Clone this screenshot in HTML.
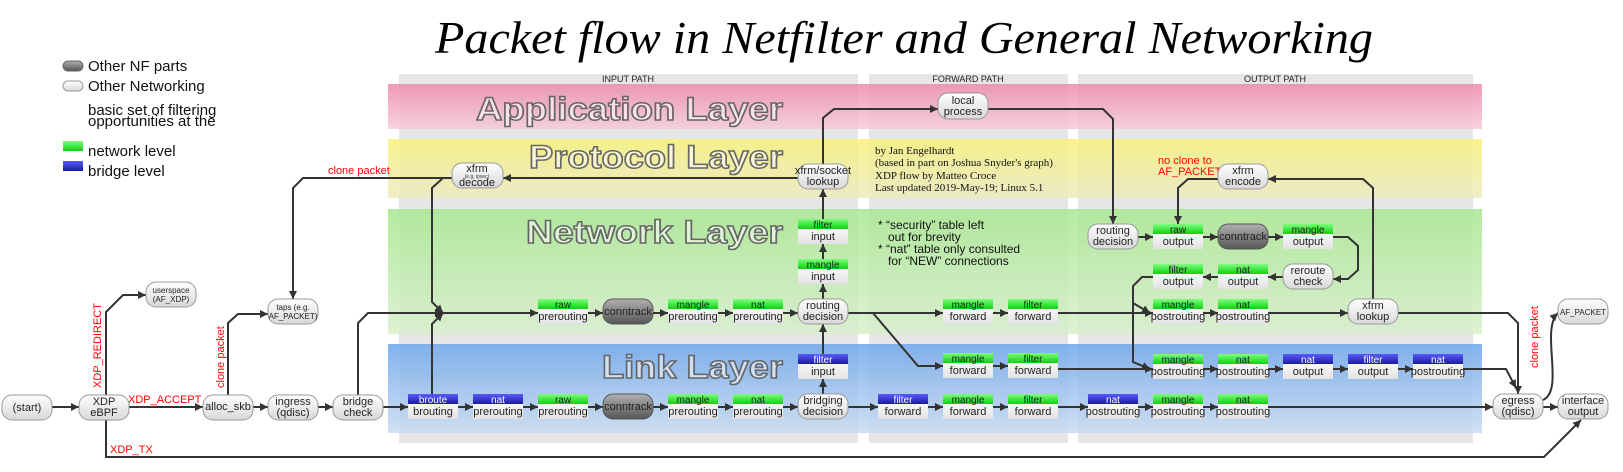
<!DOCTYPE html>
<html><head><meta charset="utf-8"><style>
html,body{margin:0;padding:0;background:#fff;}
svg{display:block;}
text{font-family:"Liberation Sans",sans-serif;}
.n{font-size:11px;fill:#222;text-anchor:middle;}
.s{font-size:8px;fill:#222;text-anchor:middle;}
.hw{font-size:10px;fill:#fff;text-anchor:middle;}
.hg{font-size:10px;fill:#222;text-anchor:middle;}
.r{fill:#f00;font-size:11px;}
.lt{font-size:32px;font-weight:bold;fill:rgba(255,255,255,0.55);stroke:#666;stroke-width:1.5;text-anchor:end;}
.ln{fill:none;stroke:#333;stroke-width:2;marker-end:url(#a);}
.lx{fill:none;stroke:#333;stroke-width:2;}
.cr{font-family:"Liberation Serif",serif;font-size:11px;fill:#111;}
.pl{font-size:9px;fill:#222;text-anchor:middle;}
</style></head><body>
<svg width="1623" height="472" viewBox="0 0 1623 472" xmlns="http://www.w3.org/2000/svg">
<defs>
<marker id="a" markerWidth="8" markerHeight="8" refX="8" refY="4" orient="auto" markerUnits="userSpaceOnUse"><path d="M0,0 L8,4 L0,8 z" fill="#333"/></marker>
<linearGradient id="gl" x1="0" y1="0" x2="0" y2="1"><stop offset="0" stop-color="#fff"/><stop offset="1" stop-color="#d8d8d8"/></linearGradient>
<linearGradient id="gd" x1="0" y1="0" x2="0" y2="1"><stop offset="0" stop-color="#b0b0b0"/><stop offset="1" stop-color="#555"/></linearGradient>
<linearGradient id="gg" x1="0" y1="0" x2="0" y2="1"><stop offset="0" stop-color="#7dff7d"/><stop offset="1" stop-color="#10d010"/></linearGradient>
<linearGradient id="gb" x1="0" y1="0" x2="0" y2="1"><stop offset="0" stop-color="#5a5aff"/><stop offset="1" stop-color="#1a1aa0"/></linearGradient>
<linearGradient id="gy" x1="0" y1="0" x2="0" y2="1"><stop offset="0" stop-color="#f8f8f8"/><stop offset="1" stop-color="#e2e2e2"/></linearGradient>
<linearGradient id="bp" x1="0" y1="0" x2="0" y2="1"><stop offset="0" stop-color="#ec8aa8"/><stop offset="1" stop-color="#f6cbd8"/></linearGradient>
<linearGradient id="by" x1="0" y1="0" x2="0" y2="1"><stop offset="0" stop-color="#f8f27a"/><stop offset="1" stop-color="#eeecc0"/></linearGradient>
<linearGradient id="bg" x1="0" y1="0" x2="0" y2="1"><stop offset="0" stop-color="#a8e890"/><stop offset="1" stop-color="#d8f0cc"/></linearGradient>
<linearGradient id="bb" x1="0" y1="0" x2="0" y2="1"><stop offset="0" stop-color="#6ea6ec"/><stop offset="1" stop-color="#c8dcf2"/></linearGradient>
</defs>

<!-- title -->
<text x="435" y="53" font-family="Liberation Serif,serif" font-style="italic" font-size="46" fill="#000" textLength="938" lengthAdjust="spacingAndGlyphs" style="font-family:'Liberation Serif',serif">Packet flow in Netfilter and General Networking</text>

<!-- legend -->
<rect x="63" y="61" width="20" height="10" rx="5" fill="url(#gd)" stroke="#666"/>
<rect x="63" y="81" width="20" height="10" rx="5" fill="url(#gl)" stroke="#999"/>
<rect x="63" y="141" width="20" height="10" fill="url(#gg)"/>
<rect x="63" y="161" width="20" height="10" fill="url(#gb)"/>
<g font-size="15" fill="#111">
<text x="88" y="71">Other NF parts</text>
<text x="88" y="91">Other Networking</text>
<text x="88" y="115">basic set of filtering</text>
<text x="88" y="126">opportunities at the</text>
<text x="88" y="156">network level</text>
<text x="88" y="176">bridge level</text>
</g>

<!-- columns -->
<rect x="399" y="74" width="459" height="369" fill="#e6e6e6"/>
<rect x="869" y="74" width="199" height="369" fill="#e6e6e6"/>
<rect x="1078" y="74" width="395" height="369" fill="#e6e6e6"/>
<text class="pl" x="628" y="82">INPUT PATH</text>
<text class="pl" x="968" y="82">FORWARD PATH</text>
<text class="pl" x="1275" y="82">OUTPUT PATH</text>

<!-- bands -->
<g opacity="0.85">
<rect x="388" y="84" width="1094" height="45" fill="url(#bp)"/>
<rect x="388" y="139" width="1094" height="59" fill="url(#by)"/>
<rect x="388" y="209" width="1094" height="125" fill="url(#bg)"/>
<rect x="388" y="344" width="1094" height="89" fill="url(#bb)"/>
</g>
<text class="lt" x="783" y="120" textLength="307" lengthAdjust="spacingAndGlyphs">Application Layer</text>
<text class="lt" x="783" y="168" textLength="254" lengthAdjust="spacingAndGlyphs">Protocol Layer</text>
<text class="lt" x="783" y="243" textLength="257" lengthAdjust="spacingAndGlyphs">Network Layer</text>
<text class="lt" x="783" y="378" textLength="181" lengthAdjust="spacingAndGlyphs">Link Layer</text>

<!-- credits / notes -->
<text class="cr" x="875" y="154">by Jan Engelhardt</text>
<text class="cr" x="875" y="166">(based in part on Joshua Snyder's graph)</text>
<text class="cr" x="875" y="179">XDP flow by Matteo Croce</text>
<text class="cr" x="875" y="191">Last updated 2019-May-19; Linux 5.1</text>
<g font-size="12" fill="#111">
<text x="878" y="229">* “security” table left</text>
<text x="888" y="241">out for brevity</text>
<text x="878" y="253">* “nat” table only consulted</text>
<text x="888" y="265">for “NEW” connections</text>
</g>

<!-- connectors -->
<g>
<path class="ln" d="M52,407H79"/><path class="ln" d="M129,407H203"/><path class="ln" d="M253,407H268"/><path class="ln" d="M318,407H333"/><path class="ln" d="M383,407H408"/><path class="ln" d="M458,407H473"/><path class="ln" d="M523,407H538"/><path class="ln" d="M588,407H603"/><path class="ln" d="M653,407H668"/><path class="ln" d="M718,407H733"/><path class="ln" d="M783,407H798"/><path class="ln" d="M848,407H878"/><path class="ln" d="M928,407H943"/><path class="ln" d="M993,407H1008"/><path class="ln" d="M1058,407H1088"/><path class="ln" d="M1138,407H1153"/><path class="ln" d="M1203,407H1218"/><path class="ln" d="M1268,407H1493"/><path class="ln" d="M1543,407H1558"/>
<path class="ln" d="M443,313H538"/><path class="ln" d="M588,313H603"/><path class="ln" d="M653,313H668"/><path class="ln" d="M718,313H733"/><path class="ln" d="M783,313H798"/><path class="ln" d="M848,313H943"/><path class="ln" d="M993,313H1008"/><path class="ln" d="M1058,313H1153"/><path class="ln" d="M1203,313H1218"/><path class="ln" d="M1268,313H1348"/>
<path class="ln" d="M358,395V323L368,313H443"/>
<path class="ln" d="M432,394V324L443,313"/>
<path class="ln" d="M452,178H303L293,188V299"/>
<path class="ln" d="M443,178L432,188V302L443,313"/>
<path class="ln" d="M823,299V284"/><path class="ln" d="M823,259V244"/><path class="ln" d="M823,219V189"/>
<path class="ln" d="M823,164V118L834,109H938"/>
<path class="ln" d="M823,394V379"/><path class="ln" d="M823,354V324"/>
<path class="ln" d="M798,178H503"/>
<path class="ln" d="M873,313L918,366H943"/>
<path class="ln" d="M993,366H1008"/>
<path class="ln" d="M1058,369H1153"/>
<path class="ln" d="M988,109H1103L1113,119V224"/>
<path class="ln" d="M1138,237H1153"/><path class="ln" d="M1203,237H1218"/><path class="ln" d="M1268,237H1283"/>
<path class="ln" d="M1333,237H1348L1358,246V270L1348,279H1333"/>
<path class="ln" d="M1283,277H1268"/><path class="ln" d="M1218,277H1203"/>
<path class="ln" d="M1153,277H1142L1133,286V362L1150,369"/>
<path class="ln" d="M1133,303L1150,313"/>
<path class="ln" d="M1373,299V188L1363,179H1268"/>
<path class="ln" d="M1218,179H1188L1178,188V224"/>
<path class="ln" d="M1398,313H1508L1518,323V394"/>
<path class="ln" d="M1203,369H1218"/><path class="ln" d="M1268,369H1283"/><path class="ln" d="M1333,369H1348"/><path class="ln" d="M1398,369H1413"/>
<path class="ln" d="M1463,369H1506L1516,388"/>
<path class="ln" d="M1543,400C1565,390 1540,330 1558,313"/>
<path class="ln" d="M106,420V457H1544L1581,420"/>
<path class="ln" d="M106,395V312L123,295H146"/>
<path class="ln" d="M228,395V323L238,314H268"/>
</g>

<!-- red labels -->
<text class="r" transform="translate(101,388) rotate(-90)">XDP_REDIRECT</text>
<text class="r" x="128" y="403">XDP_ACCEPT</text>
<text class="r" x="110" y="453">XDP_TX</text>
<text class="r" font-size="9.5" transform="translate(224,388) rotate(-90)">clone packet</text>
<text class="r" font-size="9.5" x="328" y="174">clone packet</text>
<text class="r" font-size="10" x="1158" y="164">no clone to</text>
<text class="r" x="1158" y="175">AF_PACKET</text>
<text class="r" font-size="9.5" transform="translate(1538,368) rotate(-90)">clone packet</text>

<!-- pill nodes -->
<g stroke="#999" fill="url(#gl)">
<rect x="2" y="395" width="50" height="25" rx="10"/>
<rect x="79" y="395" width="50" height="25" rx="10"/>
<rect x="203" y="395" width="50" height="25" rx="10"/>
<rect x="268" y="395" width="50" height="25" rx="10"/>
<rect x="333" y="395" width="50" height="25" rx="10"/>
<rect x="146" y="282" width="50" height="25" rx="10"/>
<rect x="268" y="299" width="50" height="25" rx="10"/>
<rect x="452" y="163" width="51" height="25" rx="10"/>
<rect x="798" y="164" width="50" height="25" rx="10"/>
<rect x="798" y="299" width="50" height="25" rx="10"/>
<rect x="798" y="394" width="50" height="25" rx="10"/>
<rect x="938" y="93" width="50" height="26" rx="10"/>
<rect x="1088" y="224" width="50" height="25" rx="10"/>
<rect x="1283" y="264" width="50" height="25" rx="10"/>
<rect x="1218" y="164" width="50" height="25" rx="10"/>
<rect x="1348" y="299" width="50" height="25" rx="10"/>
<rect x="1493" y="394" width="50" height="25" rx="10"/>
<rect x="1558" y="299" width="50" height="25" rx="10"/>
<rect x="1558" y="394" width="50" height="25" rx="10"/>
</g>
<g stroke="#555" fill="url(#gd)">
<rect x="603" y="299" width="50" height="25" rx="10"/>
<rect x="603" y="394" width="50" height="25" rx="10"/>
<rect x="1218" y="224" width="50" height="25" rx="10"/>
</g>
<text class="n" x="27" y="411">(start)</text>
<text class="n" x="104" y="405">XDP</text><text class="n" x="104" y="416">eBPF</text>
<text class="n" x="228" y="410">alloc_skb</text>
<text class="n" x="293" y="405">ingress</text><text class="n" x="293" y="416">(qdisc)</text>
<text class="n" x="358" y="405">bridge</text><text class="n" x="358" y="416">check</text>
<text class="s" x="171" y="293">userspace</text><text class="s" x="171" y="302">(AF_XDP)</text>
<text class="s" x="293" y="310">taps (e.g.</text><text class="s" x="293" y="319">AF_PACKET)</text>
<text class="n" x="477" y="172">xfrm</text><text font-size="5" x="477" y="178" text-anchor="middle" fill="#333">(e.g. ipsec)</text><text class="n" x="477" y="186">decode</text>
<text class="n" x="823" y="174">xfrm/socket</text><text class="n" x="823" y="185">lookup</text>
<text class="n" x="823" y="309">routing</text><text class="n" x="823" y="320">decision</text>
<text class="n" x="823" y="404">bridging</text><text class="n" x="823" y="415">decision</text>
<text class="n" x="963" y="104">local</text><text class="n" x="963" y="115">process</text>
<text class="n" x="1113" y="234">routing</text><text class="n" x="1113" y="245">decision</text>
<text class="n" x="1308" y="274">reroute</text><text class="n" x="1308" y="285">check</text>
<text class="n" x="1243" y="174">xfrm</text><text class="n" x="1243" y="185">encode</text>
<text class="n" x="1373" y="309">xfrm</text><text class="n" x="1373" y="320">lookup</text>
<text class="n" x="1518" y="404">egress</text><text class="n" x="1518" y="415">(qdisc)</text>
<text class="s" x="1583" y="315">AF_PACKET</text>
<text class="n" x="1583" y="404">interface</text><text class="n" x="1583" y="415">output</text>
<text class="n" x="628" y="315">conntrack</text>
<text class="n" x="628" y="410">conntrack</text>
<text class="n" x="1243" y="240">conntrack</text>

<!-- table nodes -->
<g id="tables">
<!-- green helper: header 10px, body 15px -->
</g>
<g>
<!-- Network row -->
<g transform="translate(538,299)"><rect width="50" height="10" fill="url(#gg)"/><rect y="10" width="50" height="15" fill="url(#gy)"/><text class="hg" x="25" y="9">raw</text><text class="n" x="25" y="21">prerouting</text></g>
<g transform="translate(668,299)"><rect width="50" height="10" fill="url(#gg)"/><rect y="10" width="50" height="15" fill="url(#gy)"/><text class="hg" x="25" y="9">mangle</text><text class="n" x="25" y="21">prerouting</text></g>
<g transform="translate(733,299)"><rect width="50" height="10" fill="url(#gg)"/><rect y="10" width="50" height="15" fill="url(#gy)"/><text class="hg" x="25" y="9">nat</text><text class="n" x="25" y="21">prerouting</text></g>
<g transform="translate(943,299)"><rect width="50" height="10" fill="url(#gg)"/><rect y="10" width="50" height="15" fill="url(#gy)"/><text class="hg" x="25" y="9">mangle</text><text class="n" x="25" y="21">forward</text></g>
<g transform="translate(1008,299)"><rect width="50" height="10" fill="url(#gg)"/><rect y="10" width="50" height="15" fill="url(#gy)"/><text class="hg" x="25" y="9">filter</text><text class="n" x="25" y="21">forward</text></g>
<g transform="translate(1153,299)"><rect width="50" height="10" fill="url(#gg)"/><rect y="10" width="50" height="15" fill="url(#gy)"/><text class="hg" x="25" y="9">mangle</text><text class="n" x="25" y="21">postrouting</text></g>
<g transform="translate(1218,299)"><rect width="50" height="10" fill="url(#gg)"/><rect y="10" width="50" height="15" fill="url(#gy)"/><text class="hg" x="25" y="9">nat</text><text class="n" x="25" y="21">postrouting</text></g>
<g transform="translate(798,259)"><rect width="50" height="10" fill="url(#gg)"/><rect y="10" width="50" height="15" fill="url(#gy)"/><text class="hg" x="25" y="9">mangle</text><text class="n" x="25" y="21">input</text></g>
<g transform="translate(798,219)"><rect width="50" height="10" fill="url(#gg)"/><rect y="10" width="50" height="15" fill="url(#gy)"/><text class="hg" x="25" y="9">filter</text><text class="n" x="25" y="21">input</text></g>
<g transform="translate(1153,224)"><rect width="50" height="10" fill="url(#gg)"/><rect y="10" width="50" height="15" fill="url(#gy)"/><text class="hg" x="25" y="9">raw</text><text class="n" x="25" y="21">output</text></g>
<g transform="translate(1283,224)"><rect width="50" height="10" fill="url(#gg)"/><rect y="10" width="50" height="15" fill="url(#gy)"/><text class="hg" x="25" y="9">mangle</text><text class="n" x="25" y="21">output</text></g>
<g transform="translate(1153,264)"><rect width="50" height="10" fill="url(#gg)"/><rect y="10" width="50" height="15" fill="url(#gy)"/><text class="hg" x="25" y="9">filter</text><text class="n" x="25" y="21">output</text></g>
<g transform="translate(1218,264)"><rect width="50" height="10" fill="url(#gg)"/><rect y="10" width="50" height="15" fill="url(#gy)"/><text class="hg" x="25" y="9">nat</text><text class="n" x="25" y="21">output</text></g>
<!-- link middle rows -->
<g transform="translate(798,354)"><rect width="50" height="10" fill="url(#gb)"/><rect y="10" width="50" height="15" fill="url(#gy)"/><text class="hw" x="25" y="9">filter</text><text class="n" x="25" y="21">input</text></g>
<g transform="translate(943,353)"><rect width="50" height="10" fill="url(#gg)"/><rect y="10" width="50" height="15" fill="url(#gy)"/><text class="hg" x="25" y="9">mangle</text><text class="n" x="25" y="21">forward</text></g>
<g transform="translate(1008,353)"><rect width="50" height="10" fill="url(#gg)"/><rect y="10" width="50" height="15" fill="url(#gy)"/><text class="hg" x="25" y="9">filter</text><text class="n" x="25" y="21">forward</text></g>
<g transform="translate(1153,354)"><rect width="50" height="10" fill="url(#gg)"/><rect y="10" width="50" height="15" fill="url(#gy)"/><text class="hg" x="25" y="9">mangle</text><text class="n" x="25" y="21">postrouting</text></g>
<g transform="translate(1218,354)"><rect width="50" height="10" fill="url(#gg)"/><rect y="10" width="50" height="15" fill="url(#gy)"/><text class="hg" x="25" y="9">nat</text><text class="n" x="25" y="21">postrouting</text></g>
<g transform="translate(1283,354)"><rect width="50" height="10" fill="url(#gb)"/><rect y="10" width="50" height="15" fill="url(#gy)"/><text class="hw" x="25" y="9">nat</text><text class="n" x="25" y="21">output</text></g>
<g transform="translate(1348,354)"><rect width="50" height="10" fill="url(#gb)"/><rect y="10" width="50" height="15" fill="url(#gy)"/><text class="hw" x="25" y="9">filter</text><text class="n" x="25" y="21">output</text></g>
<g transform="translate(1413,354)"><rect width="50" height="10" fill="url(#gb)"/><rect y="10" width="50" height="15" fill="url(#gy)"/><text class="hw" x="25" y="9">nat</text><text class="n" x="25" y="21">postrouting</text></g>
<!-- link bottom row -->
<g transform="translate(408,394)"><rect width="50" height="10" fill="url(#gb)"/><rect y="10" width="50" height="15" fill="url(#gy)"/><text class="hw" x="25" y="9">broute</text><text class="n" x="25" y="21">brouting</text></g>
<g transform="translate(473,394)"><rect width="50" height="10" fill="url(#gb)"/><rect y="10" width="50" height="15" fill="url(#gy)"/><text class="hw" x="25" y="9">nat</text><text class="n" x="25" y="21">prerouting</text></g>
<g transform="translate(538,394)"><rect width="50" height="10" fill="url(#gg)"/><rect y="10" width="50" height="15" fill="url(#gy)"/><text class="hg" x="25" y="9">raw</text><text class="n" x="25" y="21">prerouting</text></g>
<g transform="translate(668,394)"><rect width="50" height="10" fill="url(#gg)"/><rect y="10" width="50" height="15" fill="url(#gy)"/><text class="hg" x="25" y="9">mangle</text><text class="n" x="25" y="21">prerouting</text></g>
<g transform="translate(733,394)"><rect width="50" height="10" fill="url(#gg)"/><rect y="10" width="50" height="15" fill="url(#gy)"/><text class="hg" x="25" y="9">nat</text><text class="n" x="25" y="21">prerouting</text></g>
<g transform="translate(878,394)"><rect width="50" height="10" fill="url(#gb)"/><rect y="10" width="50" height="15" fill="url(#gy)"/><text class="hw" x="25" y="9">filter</text><text class="n" x="25" y="21">forward</text></g>
<g transform="translate(943,394)"><rect width="50" height="10" fill="url(#gg)"/><rect y="10" width="50" height="15" fill="url(#gy)"/><text class="hg" x="25" y="9">mangle</text><text class="n" x="25" y="21">forward</text></g>
<g transform="translate(1008,394)"><rect width="50" height="10" fill="url(#gg)"/><rect y="10" width="50" height="15" fill="url(#gy)"/><text class="hg" x="25" y="9">filter</text><text class="n" x="25" y="21">forward</text></g>
<g transform="translate(1088,394)"><rect width="50" height="10" fill="url(#gb)"/><rect y="10" width="50" height="15" fill="url(#gy)"/><text class="hw" x="25" y="9">nat</text><text class="n" x="25" y="21">postrouting</text></g>
<g transform="translate(1153,394)"><rect width="50" height="10" fill="url(#gg)"/><rect y="10" width="50" height="15" fill="url(#gy)"/><text class="hg" x="25" y="9">mangle</text><text class="n" x="25" y="21">postrouting</text></g>
<g transform="translate(1218,394)"><rect width="50" height="10" fill="url(#gg)"/><rect y="10" width="50" height="15" fill="url(#gy)"/><text class="hg" x="25" y="9">nat</text><text class="n" x="25" y="21">postrouting</text></g>
</g>
</svg>
</body></html>
